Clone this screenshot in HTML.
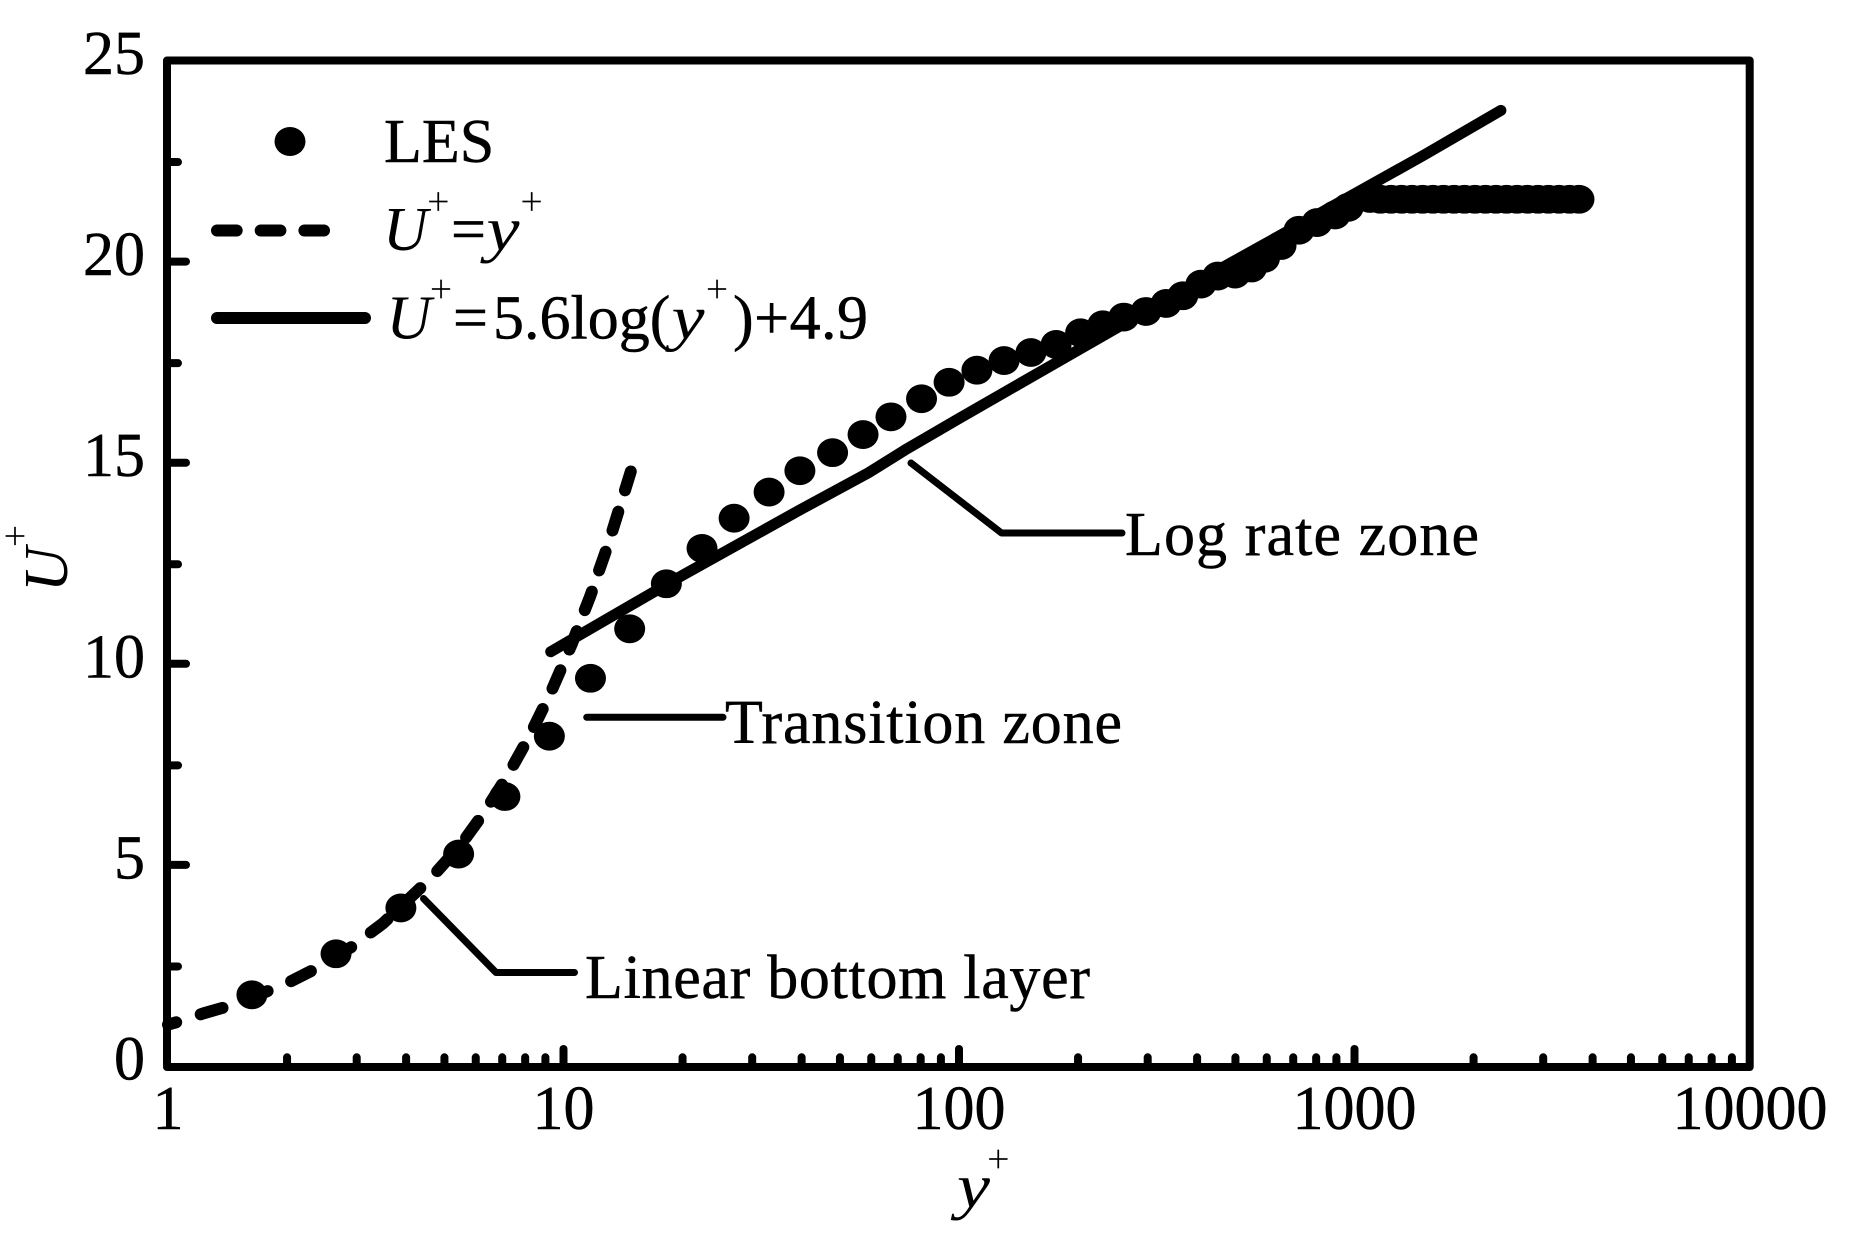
<!DOCTYPE html>
<html lang="en">
<head>
<meta charset="utf-8">
<title>Velocity profile U+ versus y+</title>
<style>
html,body{margin:0;padding:0;background:#fff;}
svg{display:block;}
text{font-family:"Liberation Serif",serif;fill:#000;}
.t{font-size:62px;stroke:#000;stroke-width:.5px;}
.i{font-size:62px;font-style:italic;}
.p{font-size:40px;text-anchor:middle;stroke:#fff;stroke-width:.25px;}
</style>
</head>
<body>
<svg id="chart" xmlns="http://www.w3.org/2000/svg" width="1866" height="1233" viewBox="0 0 1866 1233">
  <rect x="0" y="0" width="1866" height="1233" fill="#fff"/>
  <g id="ticks"></g>
  <rect x="167" y="60.5" width="1582.7" height="1006.5" fill="none" stroke="#000" stroke-width="8" stroke-linejoin="round"/>
  <g id="tickLabels"></g>
  <g id="series"></g>

  <g>
    <text class="i" x="957" y="1207" textLength="33" lengthAdjust="spacingAndGlyphs">y</text>
    <text class="p" x="998.3" y="1172.5">+</text>
  </g>
  <g>
    <text class="i" transform="translate(67,592) rotate(-90)" x="0" y="0">U</text>
    <text class="p" transform="translate(28.5,536) rotate(-90)" x="0" y="0">+</text>
  </g>

  <g>
    <ellipse cx="290" cy="141.5" rx="15.5" ry="14.5"/>
    <text class="t" x="384" y="162">LES</text>
    <line x1="217" y1="230.5" x2="324" y2="230.5" stroke="#000" stroke-width="12" stroke-linecap="round" stroke-dasharray="19.7 24"/>
    <g>
      <text class="i" x="383" y="250">U</text>
      <text class="p" x="438.3" y="215">+</text>
      <text class="t" x="451" y="250">=</text>
      <text class="i" x="486.5" y="250" textLength="33" lengthAdjust="spacingAndGlyphs">y</text>
      <text class="p" x="531.7" y="215">+</text>
    </g>
    <line x1="217" y1="318" x2="365" y2="318" stroke="#000" stroke-width="12" stroke-linecap="round"/>
    <g>
      <text class="i" x="386.5" y="338.3">U</text>
      <text class="p" x="441" y="302.7">+</text>
      <text class="t" x="453" y="338.3">=</text>
      <text class="t" x="493" y="338.3">5.6log(</text>
      <text class="i" x="671.5" y="338.3" textLength="33" lengthAdjust="spacingAndGlyphs">y</text>
      <text class="p" x="717" y="302.7">+</text>
      <text class="t" x="733" y="338.3" textLength="135" lengthAdjust="spacing">)+4.9</text>
    </g>
  </g>

  <g>
    <polyline points="911,463 1001.5,533 1122,533" fill="none" stroke="#000" stroke-width="7" stroke-linecap="round" stroke-linejoin="round"/>
    <text class="t" x="1125" y="555" textLength="354" lengthAdjust="spacing">Log rate zone</text>
  </g>
  <g>
    <line x1="586.7" y1="717.3" x2="723" y2="717.3" stroke="#000" stroke-width="7" stroke-linecap="round"/>
    <text class="t" x="725" y="743" textLength="397" lengthAdjust="spacing">Transition zone</text>
  </g>
  <g>
    <polyline points="423.5,898.5 496,972.5 574.5,972.5" fill="none" stroke="#000" stroke-width="7" stroke-linecap="round" stroke-linejoin="round"/>
    <text class="t" x="585" y="998" textLength="505" lengthAdjust="spacing">Linear bottom layer</text>
  </g>
</svg>
<script>
const xTickLabels = ['1', '10', '100', '1000', '10000'];
const xTickValues = [1, 10, 100, 1000, 10000];
const xMinorFactors = [2, 3, 4, 5, 6, 7, 8, 9];
const yTickLabels = ['0', '5', '10', '15', '20', '25'];
const yTickValues = [0, 5, 10, 15, 20, 25];
const yMinorValues = [2.5, 7.5, 12.5, 17.5, 22.5];

const lesY = [1.63, 2.66, 3.88, 5.43, 7.11, 9.21, 11.7, 14.7, 18.2, 22.4, 27.0, 33.1, 39.6, 47.9, 57.2, 67.3, 80.4, 94.4, 111, 130, 152, 176, 203, 231, 261, 297, 334, 368, 409, 451, 499, 549, 592, 652, 724, 804, 893, 964, 1094, 1163, 1237, 1315, 1398, 1486, 1579, 1679, 1785, 1897, 2017, 2144, 2279, 2423, 2576, 2738, 2911, 3094, 3289, 3496, 3695];
const lesU = [1.77, 2.79, 3.93, 5.27, 6.7, 8.2, 9.64, 10.87, 11.99, 12.87, 13.62, 14.27, 14.8, 15.25, 15.7, 16.14, 16.59, 17.0, 17.3, 17.54, 17.74, 17.94, 18.23, 18.43, 18.62, 18.76, 18.96, 19.15, 19.44, 19.64, 19.69, 19.84, 20.08, 20.4, 20.78, 20.97, 21.16, 21.35, 21.57, 21.55, 21.55, 21.55, 21.55, 21.55, 21.55, 21.55, 21.55, 21.55, 21.55, 21.55, 21.55, 21.55, 21.55, 21.55, 21.55, 21.55, 21.55, 21.55, 21.55];

const linearY = [1, 1.08, 1.23, 1.39, 1.63, 2.04, 2.31, 2.9, 3.5, 4.29, 4.82, 5.5, 6.3, 7.2, 8.2, 9.3, 10.5, 11.7, 13, 14.8];
const linearU = [1.03, 1.12, 1.31, 1.46, 1.7, 2.1, 2.37, 2.95, 3.55, 4.37, 4.87, 5.5, 6.3, 7.2, 8.2, 9.3, 10.5, 11.7, 13, 14.78];

const logY = [9.28, 20, 40, 59, 74, 100, 200, 400, 800, 1500, 2345];
const logU = [10.3, 12.2, 13.85, 14.75, 15.35, 16.1, 17.8, 19.5, 21.15, 22.65, 23.76];

const SVGNS = 'http://www.w3.org/2000/svg';
const xScale = function (v) { return 168 + Math.log10(v) * 395.5; };
const yScale = function (v) { return 1066 - v * 40.22; };

function make(tag, parent) {
  const el = document.createElementNS(SVGNS, tag);
  parent.appendChild(el);
  return el;
}
function pathOf(xs, ys) {
  return xs.map(function (x, i) {
    return (i ? 'L' : 'M') + xScale(x).toFixed(1) + ' ' + yScale(ys[i]).toFixed(1);
  }).join(' ');
}
/* The source artwork was stretched horizontally, so its dash rhythm is
   measured in an anisotropic metric, walking back from the line's top end. */
function dashedPathOf(xs, ys, on, off, stretch) {
  const pts = xs.map(function (x, i) { return [xScale(x), yScale(ys[i])]; }).reverse();
  let d = '';
  let drawing = true;
  let left = on;
  let cur = pts[0];
  d += 'M' + cur[0].toFixed(1) + ' ' + cur[1].toFixed(1);
  for (let i = 1; i < pts.length; i++) {
    const next = pts[i];
    let segX = next[0] - cur[0];
    let segY = next[1] - cur[1];
    let len = Math.hypot(segX / stretch, segY);
    while (len > left) {
      const t = left / len;
      const p = [cur[0] + segX * t, cur[1] + segY * t];
      d += (drawing ? 'L' : 'M') + p[0].toFixed(1) + ' ' + p[1].toFixed(1);
      drawing = !drawing;
      cur = p;
      segX = next[0] - cur[0];
      segY = next[1] - cur[1];
      len = Math.hypot(segX / stretch, segY);
      left = drawing ? on : off;
    }
    left -= len;
    if (drawing) { d += 'L' + next[0].toFixed(1) + ' ' + next[1].toFixed(1); }
    else { d += 'M' + next[0].toFixed(1) + ' ' + next[1].toFixed(1); }
    cur = next;
  }
  return d;
}

const ticks = document.getElementById('ticks');
const labels = document.getElementById('tickLabels');
const series = document.getElementById('series');

function tick(x1, y1, x2, y2) {
  const el = make('line', ticks);
  el.setAttribute('x1', x1);
  el.setAttribute('y1', y1);
  el.setAttribute('x2', x2);
  el.setAttribute('y2', y2);
  el.setAttribute('stroke', '#000');
  el.setAttribute('stroke-width', '8');
  el.setAttribute('stroke-linecap', 'round');
  return el;
}

xTickValues.forEach(function (v, i) {
  const px = xScale(v);
  if (i > 0 && i < xTickValues.length - 1) {
    const major = tick(px, 1067, px, 1049);
    
    
  }
  if (i < xTickValues.length - 1) {
    xMinorFactors.forEach(function (f) {
      const minorPx = xScale(v * f);
      const minor = tick(minorPx, 1067, minorPx, 1057.3);
      
      
    });
  }
  const label = make('text', labels);
  label.setAttribute('class', 't');
  label.setAttribute('x', px);
  label.setAttribute('y', 1129);
  label.setAttribute('text-anchor', 'middle');
  label.textContent = xTickLabels[i];
  
  
});

yTickValues.forEach(function (v, i) {
  const py = yScale(v);
  if (i > 0 && i < yTickValues.length - 1) {
    const major = tick(167, py, 186, py);
    
    
  }
  const label = make('text', labels);
  label.setAttribute('class', 't');
  label.setAttribute('x', 145);
  label.setAttribute('y', py + 13.5);
  label.setAttribute('text-anchor', 'end');
  label.textContent = yTickLabels[i];
  
  
});

yMinorValues.forEach(function (v) {
  const py = yScale(v) + 1;
  const minor = tick(167, py, 178, py);
  
  
});

const linearPath = make('path', series);
linearPath.setAttribute('d', dashedPathOf(linearY, linearU, 19.4, 22.1, 1.19));
linearPath.setAttribute('fill', 'none');
linearPath.setAttribute('stroke', '#000');
linearPath.setAttribute('stroke-width', '12');
linearPath.setAttribute('stroke-linecap', 'round');
linearPath.setAttribute('stroke-linejoin', 'round');



const logPath = make('path', series);
logPath.setAttribute('d', pathOf(logY, logU));
logPath.setAttribute('fill', 'none');
logPath.setAttribute('stroke', '#000');
logPath.setAttribute('stroke-width', '11');
logPath.setAttribute('stroke-linecap', 'round');
logPath.setAttribute('stroke-linejoin', 'round');



lesY.forEach(function (v, i) {
  const dot = make('ellipse', series);
  dot.setAttribute('cx', xScale(v));
  dot.setAttribute('cy', yScale(lesU[i]));
  dot.setAttribute('rx', 15.5);
  dot.setAttribute('ry', 14.4);
  dot.setAttribute('fill', '#000');
  
  
});
</script>
</body>
</html>
